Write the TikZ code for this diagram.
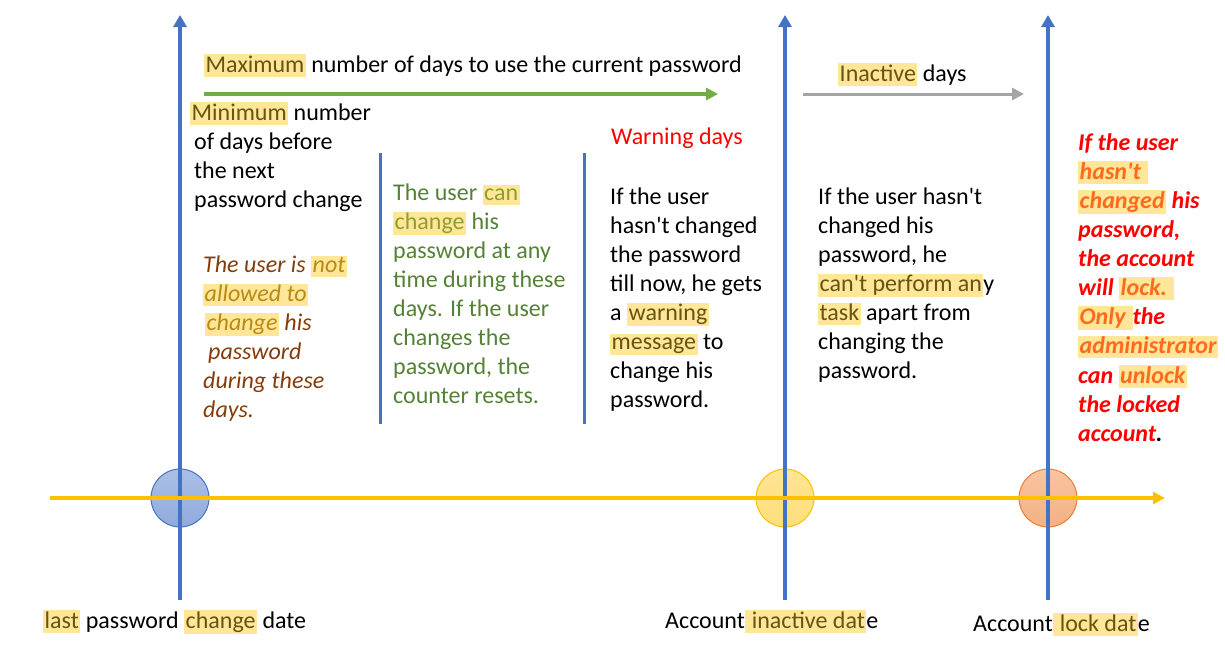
\documentclass[tikz,border=0pt]{standalone}
\usepackage{fontspec}
\setmainfont{Carlito}
\usetikzlibrary{arrows.meta}

\definecolor{lineblue}{HTML}{4472C4}
\definecolor{axisyellow}{HTML}{FFC000}
\definecolor{maxgreen}{HTML}{70AD47}
\definecolor{inactgray}{HTML}{A5A5A5}
\definecolor{txtgreen}{HTML}{548235}
\definecolor{txtbrown}{HTML}{843C0C}
\definecolor{hlyellow}{HTML}{FFE699}
\definecolor{hlblack}{HTML}{665410}
\definecolor{hlgreen}{HTML}{8E9F30}
\definecolor{hlbrown}{HTML}{BA8A12}
\definecolor{hlred}{HTML}{FF6A1C}
\definecolor{lockline}{HTML}{ED7D31}

\newcommand{\bigfont}{\fontsize{24}{29}\selectfont}
\newcommand{\hdstrut}{\rule{0pt}{19pt}}
\newcommand{\apo}{\textquotesingle}
\newcommand{\hlword}[2][hlblack]{{\setlength{\fboxsep}{1.5pt}\colorbox{hlyellow}{\rule[-3pt]{0pt}{17pt}\textcolor{#1}{#2}}}}

\begin{document}
\begin{tikzpicture}[x=1pt,y=-1pt]
	\useasboundingbox (0,0) rectangle (1225,653);
	\tikzset{
		txt/.style={anchor=north west,inner sep=0pt,align=left,font=\bigfont},
		lbl/.style={anchor=base west,inner sep=0pt,font=\bigfont},
		dot/.style={circle,minimum size=58pt,inner sep=0pt,line width=1pt},
		dateline/.style={line width=4pt,draw=lineblue,-{Triangle[width=13pt,length=12pt]}},
		divider/.style={line width=3pt,draw=lineblue},
		span/.style={-{Triangle[width=12pt,length=12pt]}},
	}

	% Circles on the time axis
	\node [dot,draw=lineblue,top color=lineblue!45,bottom color=lineblue!60] (lastdot) at (180,498) {};
	\node [dot,draw=axisyellow,top color=axisyellow!42,bottom color=axisyellow!52] (inactdot) at (785,498) {};
	\node [dot,draw=lockline,top color=lockline!45,bottom color=lockline!60] (lockdot) at (1048,498) {};

	% Date lines
	\coordinate (lastbot) at (180,600); \coordinate (lasttop) at (180,15);
	\coordinate (inactbot) at (785,600); \coordinate (inacttop) at (785,15);
	\coordinate (lockbot) at (1048,600); \coordinate (locktop) at (1048,15);
	\draw [dateline] (lastbot) -- (lasttop);
	\draw [dateline] (inactbot) -- (inacttop);
	\draw [dateline] (lockbot) -- (locktop);

	% Dividers
	\coordinate (diva) at (380,153); \coordinate (divaend) at (380,424);
	\coordinate (divb) at (584,153); \coordinate (divbend) at (584,424);
	\draw [divider] (diva) -- (divaend);
	\draw [divider] (divb) -- (divbend);

	% Time axis
	\coordinate (axstart) at (50,498);
	\coordinate (axend) at (1165,498);
	\draw [line width=4pt,axisyellow,span] (axstart) -- (axend);

	% Spans
	\coordinate (maxstart) at (204,94); \coordinate (maxend) at (718,94);
	\coordinate (inastart) at (803,94); \coordinate (inaend) at (1024,94);
	\draw [line width=4pt,maxgreen,span] (maxstart) -- (maxend);
	\draw [line width=3pt,inactgray,span] (inastart) -- (inaend);

	\node [lbl] (maxlbl) at (204,72) {\hlword{Maximum} number of days to use the current password};
	\node [lbl] (inactlbl) at (838,81) {\hlword{Inactive} days};

	% Text blocks
	\node [txt] (minlbl) at (190,101) {\hdstrut\hlword{Minimum} number\\
		\hspace*{4pt}of days before\\
		\hspace*{4pt}the next\\
		\hspace*{4pt}password change};
	\node [txt,font=\bigfont\itshape,text=txtbrown] (notallowed) at (203,253.5) {\hdstrut The user is \hlword[hlbrown]{not}\\
		\hlword[hlbrown]{allowed to}\\
		\hspace*{2pt}\hlword[hlbrown]{change} his\\
		\hspace*{5pt}password\\
		during these\\
		days.};
	\node [txt,text=txtgreen] (canchange) at (393,181.5) {\hdstrut The user \hlword[hlgreen]{can}\\
		\hlword[hlgreen]{change} his\\
		password at any\\
		time during these\\
		days. If the user\\
		changes the\\
		password, the\\
		counter resets.};
	\node [lbl,text=red] (warnlbl) at (611,144) {Warning days};
	\node [txt] (warntxt) at (610,185.5) {\hdstrut If the user\\
		hasn\apo t changed\\
		the password\\
		till now, he gets\\
		a \hlword{warning}\\
		\hlword{message} to\\
		change his\\
		password.};
	\node [txt] (inacttxt) at (818,185.5) {\hdstrut If the user hasn\apo t\\
		changed his\\
		password, he\\
		\hlword{can\apo t perform an}y\\
		\hlword{task} apart from\\
		changing the\\
		password.};
	\node [txt,font=\fontsize{24}{29.1}\selectfont\bfseries\itshape,text=red] (locktxt) at (1078,131) {\hdstrut If the user\\
		\hlword[hlred]{hasn\apo t\ }\\
		\hlword[hlred]{changed} his\\
		password,\\
		the account\\
		will \hlword[hlred]{lock.\ }\\
		\hlword[hlred]{Only\ }the\\
		\hlword[hlred]{administrator}\\
		can \hlword[hlred]{unlock}\\
		the locked\\
		account\textcolor{black}{.}};

	% Date labels
	\node [lbl] (lastlbl) at (43,628) {\hlword{last} password \hlword{change} date};
	\node [lbl] (inactdate) at (665,628) {Account\hlword{\ inactive dat}e};
	\node [lbl] (lockdate) at (973,631) {Account\hlword{\ lock dat}e};
\end{tikzpicture}
\end{document}
